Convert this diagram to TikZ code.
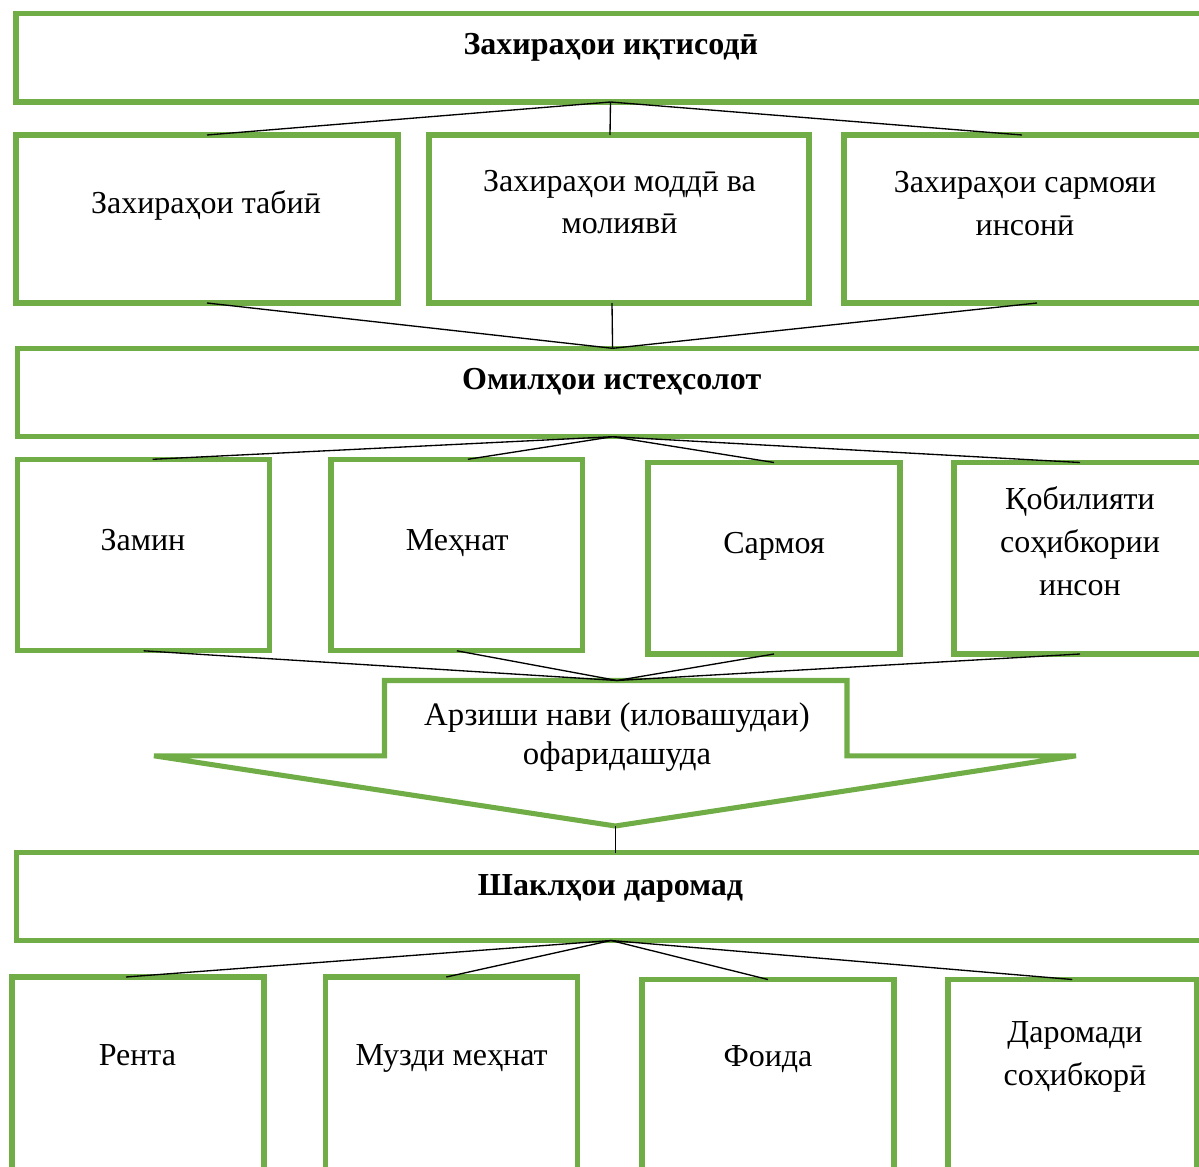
\documentclass[tikz,border=0pt]{standalone}
\usepackage{fontspec}
\setmainfont{Liberation Serif}
\usetikzlibrary{calc}
\definecolor{gr}{HTML}{70AD47}
\tikzset{
  x=0.375pt, y=-0.375pt,
  gbox/.style={draw=gr, line width=1.9pt, rectangle, inner sep=0pt, outer sep=0pt},
  garrow/.style={draw=gr, line width=1.9pt, line join=miter},
  conn/.style={draw=black, line width=0.5pt},
  lbl/.style={font=\fontsize{12}{16.1}\selectfont, align=center, anchor=base, inner sep=0pt},
  lblarrow/.style={font=\fontsize{12.3}{14.6}\selectfont, align=center, anchor=base, inner sep=0pt},
  ttl/.style={font=\fontsize{12}{16.1}\selectfont\bfseries, anchor=base, inner sep=0pt},
}
\newcommand\gbox[5]{\node[gbox, minimum width={(#4-#2)*0.375pt}, minimum height={(#5-#3)*0.375pt}] (#1) at ({(#2+#4)/2},{(#3+#5)/2}) {};}
\begin{document}
\begin{tikzpicture}
\useasboundingbox (0,0) rectangle (1199,1167);
\clip (0,0) rectangle (1199,1167);
% boxes
\gbox{top}{16}{13.5}{1205}{102}
\gbox{b1}{16}{135}{398}{303}
\gbox{b2}{429}{135}{809}{303}
\gbox{b3}{844}{135}{1216}{303}
\gbox{omil}{17.6}{348.3}{1207.6}{436.7}
\gbox{zamin}{17.6}{459.3}{269.6}{650.8}
\gbox{mehnat}{331}{459.3}{582.7}{650.8}
\gbox{sarmoya}{648}{462.5}{900}{654}
\gbox{qobil}{954}{462.5}{1206}{654}
\gbox{shakl}{16.3}{852.5}{1205.7}{940.5}
\gbox{renta}{12}{977}{264}{1185}
\gbox{muzdi}{325.3}{977}{577.3}{1185}
\gbox{foida}{642}{979.5}{894}{1185}
\gbox{daromad}{948}{979.5}{1196.5}{1185}
% big arrow
\draw[garrow] (384.5,680.5) -- (847,680.5) -- (847,755.8) -- (1076,755.8) -- (615.3,826) -- (154,755.8) -- (384.5,755.8) -- cycle;
\coordinate (arrtop) at (617,680.5);
\coordinate (arrtip) at (615.3,826);
% connectors
\draw[conn] (top.south) -- (b1.north);
\draw[conn] (top.south) -- ($(b2.north)+(-9,0)$);
\draw[conn] (top.south) -- ($(b3.north)+(-8,0)$);
\draw[conn] (b1.south) -- (omil.north);
\draw[conn] ($(b2.south)+(-7,0)$) -- (omil.north);
\draw[conn] ($(b3.south)+(7,0)$) -- (omil.north);
\draw[conn] (omil.south) -- ($(zamin.north)+(9,0)$);
\draw[conn] (omil.south) -- ($(mehnat.north)+(11,0)$);
\draw[conn] (omil.south) -- (sarmoya.north);
\draw[conn] (omil.south) -- (qobil.north);
\draw[conn] (zamin.south) -- (arrtop);
\draw[conn] (mehnat.south) -- (arrtop);
\draw[conn] (sarmoya.south) -- (arrtop);
\draw[conn] (qobil.south) -- (arrtop);
\draw[conn] (arrtip) -- (arrtip |- shakl.north);
\draw[conn] (shakl.south) -- ($(renta.north)+(-12,0)$);
\draw[conn] (shakl.south) -- ($(muzdi.north)+(-5,0)$);
\draw[conn] (shakl.south) -- (foida.north);
\draw[conn] (shakl.south) -- (daromad.north);
% texts (anchor=base is the baseline of the last line)
\node[ttl] (t0) at (610.8,55) {Захираҳои иқтисодӣ};
\node[lbl] (t1) at (206,213.3) {Захираҳои табиӣ};
\node[lbl] (t2) at (619.5,234) {Захираҳои моддӣ ва\\молиявӣ};
\node[lbl] (t3) at (1025,235) {Захираҳои сармояи\\инсонӣ};
\node[ttl] (t4) at (611.7,390) {Омилҳои истеҳсолот};
\node[lbl] (t5) at (143,550.7) {Замин};
\node[lbl] (t6) at (457.3,550.7) {Меҳнат};
\node[lbl] (t7) at (774,553.3) {Сармоя};
\node[lbl] (t8) at (1080,595) {Қобилияти\\соҳибкории\\инсон};
\node[lblarrow] (t9) at (617,764) {Арзиши нави (иловашудаи)\\офаридашуда};
\node[ttl] (t10) at (610.5,895) {Шаклҳои даромад};
\node[lbl] (t11) at (137.4,1065) {Рента};
\node[lbl] (t12) at (451.6,1065) {Музди меҳнат};
\node[lbl] (t13) at (768,1066.7) {Фоида};
\node[lbl] (t14) at (1075,1085) {Даромади\\соҳибкорӣ};
\end{tikzpicture}
\end{document}
